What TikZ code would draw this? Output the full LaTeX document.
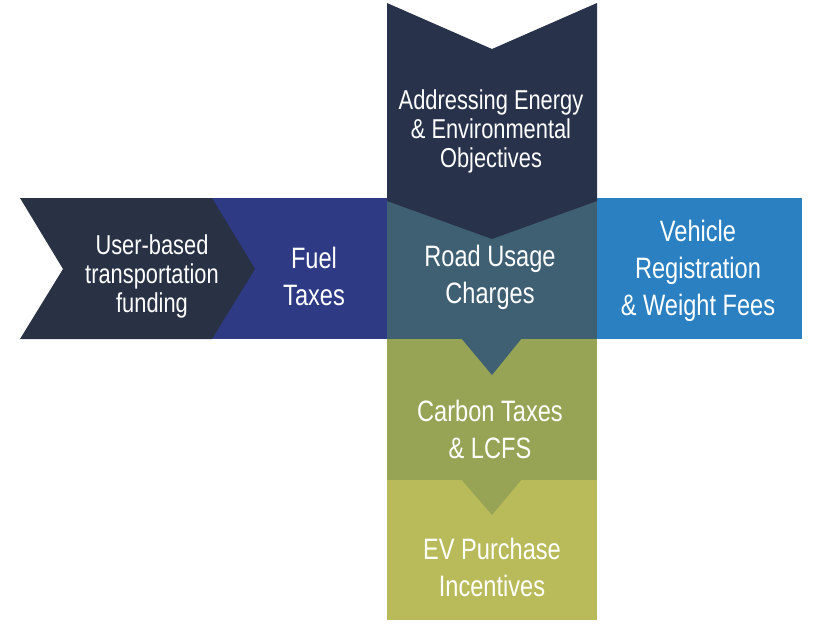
\documentclass[tikz,border=0pt]{standalone}
\usepackage{fontspec}
\setmainfont{Liberation Sans}[FakeStretch=0.8]
\definecolor{navy}{HTML}{293145}
\definecolor{topnavy}{HTML}{28324A}
\definecolor{fuelblue}{HTML}{2E3A84}
\definecolor{teal}{HTML}{3F6073}
\definecolor{vehblue}{HTML}{2A80C0}
\definecolor{olive}{HTML}{97A456}
\definecolor{lime}{HTML}{B9BB5B}
\tikzset{
  lbl/.style={text=white, align=center, font=\fontsize{29.5}{37}\selectfont},
  lblsmall/.style={text=white, align=center, font=\fontsize{27.3}{29}\selectfont}
}
\begin{document}
\begin{tikzpicture}[x=1pt,y=-1pt]
\useasboundingbox (0,0) rectangle (823,630);
% right and left bars
\fill[fuelblue] (205,198) rectangle (388,339);
\fill[vehblue] (597,198) rectangle (802,339);
\fill[navy] (20,198) -- (212,198) -- (255,269) -- (212,339) -- (20,339) -- (63,269) -- cycle;
% vertical column
\fill[lime] (387,480) rectangle (597,620);
\fill[olive] (387,339) rectangle (597,480);
\fill[olive] (461,479) -- (522,479) -- (492,515) -- cycle;
\fill[teal] (387,198) rectangle (597,339);
\fill[teal] (461,338) -- (522,338) -- (492,375) -- cycle;
\fill[topnavy] (387,3) -- (492,49) -- (597,3) -- (597,201) -- (492,239) -- (387,201) -- cycle;
% labels
\node[lblsmall] (user) at (152,276) {User-based\\transportation\\funding};
\node[lbl] (fuel) at (314,276) {Fuel\\Taxes};
\node[lblsmall] (energy) at (491,131) {Addressing Energy\\\& Environmental\\Objectives};
\node[lbl] (road) at (490,277) {Road Usage\\Charges};
\node[lbl] (vehicle) at (698,271) {Vehicle\\Registration\\\& Weight Fees};
\node[lbl] (carbon) at (490,429) {Carbon Taxes\\\& LCFS};
\node[lbl] (ev) at (492,567) {EV Purchase\\Incentives};
\end{tikzpicture}
\end{document}
